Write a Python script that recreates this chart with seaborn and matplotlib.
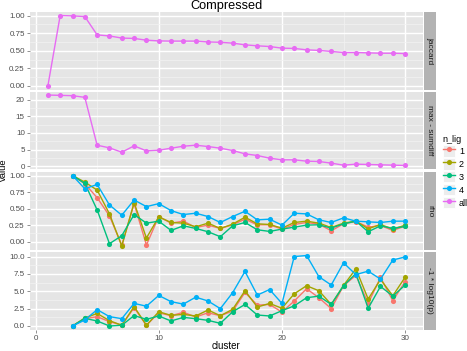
import numpy as np
import pandas as pd
import matplotlib
matplotlib.use('Agg')
import matplotlib.pyplot as plt
import seaborn as sns
from matplotlib.lines import Line2D
from matplotlib.patches import Patch
from matplotlib.ticker import MultipleLocator, FormatStrFormatter

# ---- data ----
clusters_all = list(range(1, 31))
jaccard_all = [0.00, 1.00, 0.995, 0.985, 0.725, 0.71, 0.68, 0.675, 0.65, 0.64,
               0.637, 0.637, 0.637, 0.625, 0.62, 0.608, 0.584, 0.57, 0.56, 0.537,
               0.533, 0.513, 0.505, 0.49, 0.475, 0.475, 0.47, 0.465, 0.465, 0.46]
sumdiff_all = [21.4, 21.3, 21.2, 20.7, 6.3, 5.5, 4.2, 6.1, 4.6, 4.8,
               5.4, 6.0, 6.3, 5.9, 5.4, 4.7, 3.7, 3.2, 2.4, 1.9,
               1.9, 1.5, 1.4, 0.9, 0.3, 0.6, 0.5, 0.4, 0.3, 0.2]

clusters_lig = list(range(3, 31))
rho_1 = [1.0, 0.875, 0.665, 0.39, -0.055, 0.575, -0.05, 0.38, 0.28, 0.31, 0.215, 0.25, 0.20, 0.255,
         0.34, 0.255, 0.255, 0.19, 0.26, 0.29, 0.265, 0.165, 0.27, 0.305, 0.22, 0.245, 0.17, 0.235]
rho_2 = [1.0, 0.90, 0.78, 0.42, -0.065, 0.59, 0.055, 0.375, 0.29, 0.28, 0.225, 0.28, 0.20, 0.265,
         0.37, 0.27, 0.26, 0.205, 0.29, 0.31, 0.28, 0.215, 0.28, 0.31, 0.195, 0.26, 0.19, 0.25]
rho_3 = [1.0, 0.88, 0.48, -0.03, 0.09, 0.41, 0.28, 0.31, 0.17, 0.24, 0.20, 0.15, 0.075, 0.24,
         0.29, 0.18, 0.155, 0.19, 0.22, 0.25, 0.255, 0.205, 0.27, 0.31, 0.15, 0.24, 0.20, 0.23]
rho_4 = [1.0, 0.80, 0.865, 0.555, 0.40, 0.63, 0.53, 0.575, 0.47, 0.41, 0.43, 0.38, 0.29, 0.38,
         0.46, 0.33, 0.34, 0.25, 0.43, 0.42, 0.33, 0.29, 0.36, 0.31, 0.30, 0.29, 0.31, 0.31]
logp_1 = [0.0, 1.05, 1.34, 0.62, 0.14, 2.63, 0.1, 1.9, 1.48, 1.96, 1.3, 1.9, 1.48, 2.15,
          4.83, 3.0, 3.1, 2.0, 3.6, 5.36, 4.07, 2.5, 5.8, 7.3, 3.25, 7.0, 3.64, 6.4]
logp_2 = [0.0, 1.15, 1.8, 0.77, 0.1, 2.8, 0.1, 2.05, 1.53, 1.67, 1.44, 2.3, 1.48, 2.4,
          5.07, 2.73, 3.25, 2.55, 4.64, 5.8, 5.07, 3.1, 5.84, 8.23, 3.88, 6.7, 4.35, 7.03]
logp_3 = [0.0, 1.1, 0.72, 0.0, 0.1, 1.5, 0.96, 1.44, 0.72, 1.24, 1.05, 0.81, 0.38, 2.05,
          3.1, 1.58, 1.44, 2.2, 2.9, 4.07, 4.3, 3.1, 5.8, 7.55, 2.55, 5.7, 4.3, 5.9]
logp_4 = [0.0, 0.86, 2.35, 1.35, 1.05, 3.25, 2.85, 4.4, 3.5, 3.15, 4.15, 3.6, 2.5, 4.8,
          7.85, 4.45, 5.25, 3.25, 10.0, 10.15, 7.1, 5.9, 9.1, 7.4, 7.9, 6.75, 9.5, 9.95]

measures = ['jaccard', 'max - sumdiff', 'rho', '-1 * log10(p)']
lig_levels = ['1', '2', '3', '4', 'all']
lig_colors = ['#F8766D', '#A3A500', '#00BF7D', '#00B0F6', '#E76BF3']
y_ticks = [(0.25, '%.2f'), (5, '%d'), (0.25, '%.2f'), (2.5, '%.1f')]


def build_frame():
    rows = []
    for x, v in zip(clusters_all, jaccard_all):
        rows.append((x, v, 'all', 'jaccard'))
    for x, v in zip(clusters_all, sumdiff_all):
        rows.append((x, v, 'all', 'max - sumdiff'))
    for lig, rr, lp in zip(['1', '2', '3', '4'], [rho_1, rho_2, rho_3, rho_4],
                           [logp_1, logp_2, logp_3, logp_4]):
        for x, v in zip(clusters_lig, rr):
            rows.append((x, v, lig, 'rho'))
        for x, v in zip(clusters_lig, lp):
            rows.append((x, v, lig, '-1 * log10(p)'))
    return pd.DataFrame(rows, columns=['cluster', 'value', 'n_lig', 'measure'])


def main():
    df = build_frame()
    palette = dict(zip(lig_levels, lig_colors))

    W, H = 467, 351
    fig = plt.figure(figsize=(W / 100, H / 100), dpi=100)
    plt.rcParams['font.family'] = ['Liberation Sans', 'DejaVu Sans']

    left, right = 30, 423
    tops = [12, 91.5, 172, 252]
    ph = 77.5
    tick_col = '#4D4D4D'
    msize = 3.7

    for i, m in enumerate(measures):
        ax = fig.add_axes([left / W, 1 - (tops[i] + ph) / H, (right - left) / W, ph / H])
        ax.set_facecolor('#E5E5E5')
        sub = df[df['measure'] == m]
        order = [l for l in lig_levels if l in sub['n_lig'].unique()]
        sns.lineplot(data=sub, x='cluster', y='value', hue='n_lig', hue_order=order,
                     palette=palette, estimator=None, marker='o', markersize=msize,
                     markeredgewidth=0, linewidth=1.0, legend=False, ax=ax, zorder=3)
        ax.set_xlim(-0.45, 31.45)
        vmin, vmax = sub['value'].min(), sub['value'].max()
        pad = (vmax - vmin) * 0.05
        ax.set_ylim(vmin - pad, vmax + pad)
        step, fmt = y_ticks[i]
        ax.yaxis.set_major_locator(MultipleLocator(step))
        ax.yaxis.set_minor_locator(MultipleLocator(step / 2))
        ax.yaxis.set_major_formatter(FormatStrFormatter(fmt))
        ax.xaxis.set_major_locator(MultipleLocator(10))
        ax.xaxis.set_minor_locator(MultipleLocator(5))
        ax.grid(which='major', color='white', linewidth=1.0, zorder=0)
        ax.grid(which='minor', color='#F2F2F2', linewidth=0.5, zorder=0)
        ax.set_axisbelow(True)
        for s in ax.spines.values():
            s.set_visible(False)
        ax.tick_params(which='major', length=2.5, width=0.6, color='#7F7F7F',
                       labelsize=5.8, labelcolor=tick_col, pad=1.2)
        ax.tick_params(which='minor', length=0)
        ax.set_xlabel('')
        ax.set_ylabel('')
        if i < 3:
            ax.tick_params(axis='x', labelbottom=False, length=0)

        # facet strip on the right
        sax = fig.add_axes([(right + 1) / W, 1 - (tops[i] + ph) / H, 12 / W, ph / H])
        sax.set_facecolor('#B3B3B3')
        sax.set_xticks([])
        sax.set_yticks([])
        for s in sax.spines.values():
            s.set_visible(False)
        sax.text(0.5, 0.5, m, rotation=-90, ha='center', va='center',
                 fontsize=6, color='#1A1A1A', transform=sax.transAxes)

    fig.text((left + right) / 2 / W, 1 - 6 / H, 'Compressed', ha='center', va='center',
             fontsize=9.2, color='black')
    fig.text((left + right) / 2 / W, 1 - 346 / H, 'cluster', ha='center', va='center',
             fontsize=7, color='black')
    fig.text(3.8 / W, 1 - 170 / H, 'value', ha='center', va='center', rotation=90,
             fontsize=6.8, color='black')

    handles = [(Patch(facecolor='#EDEDED', edgecolor='white', linewidth=0.6),
                Line2D([0], [0], color=c, marker='o', markersize=msize, markeredgewidth=0,
                       linewidth=1.0))
               for c in lig_colors]
    leg = fig.legend(handles=handles, labels=lig_levels, title='n_lig', loc='upper left',
                     bbox_to_anchor=(439 / W, 1 - 131 / H), frameon=False,
                     fontsize=6.5, title_fontsize=6.5, handlelength=1.4, handleheight=1.6,
                     handletextpad=0.4, labelspacing=0.15, borderaxespad=0)
    leg._legend_box.align = 'left'

    fig.savefig('out.png', dpi=100)


if __name__ == '__main__':
    main()
